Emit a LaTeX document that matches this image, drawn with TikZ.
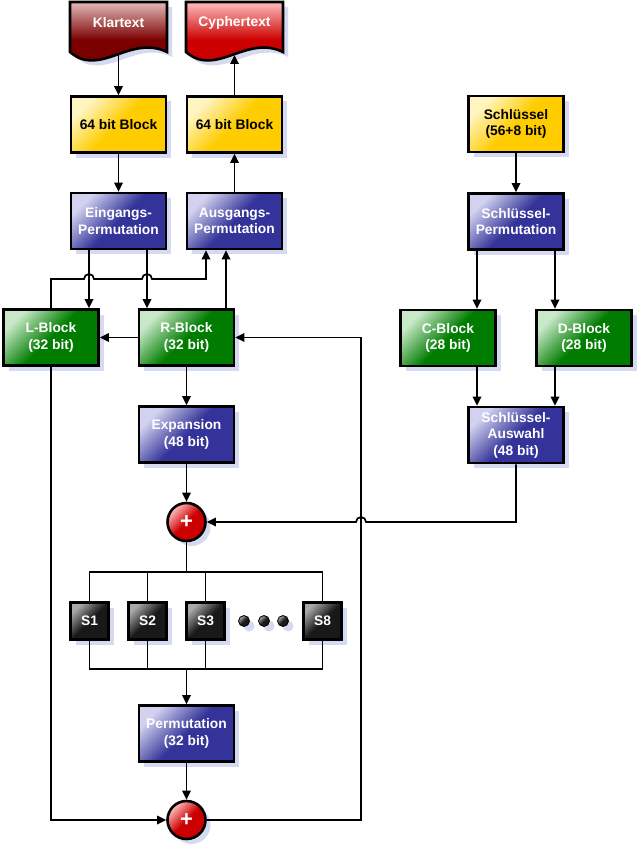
\documentclass[tikz,border=0pt]{standalone}
\usepackage{fontspec}
\setmainfont{Liberation Sans}
\usetikzlibrary{arrows.meta,shadows}
\definecolor{yelD}{RGB}{255,204,0}
\definecolor{yelL}{RGB}{255,245,195}
\definecolor{bluD}{RGB}{51,51,153}
\definecolor{bluL}{RGB}{210,210,240}
\definecolor{grnD}{RGB}{0,125,0}
\definecolor{grnL}{RGB}{200,232,200}
\definecolor{gryD}{RGB}{25,25,25}
\definecolor{gryL}{RGB}{170,170,170}
\definecolor{redD}{RGB}{204,0,0}
\definecolor{redL}{RGB}{255,190,190}
\definecolor{klarD}{RGB}{122,0,0}
\definecolor{klarL}{RGB}{230,185,185}
\definecolor{shadowblue}{RGB}{214,218,240}

\begin{document}
\begin{tikzpicture}[x=1pt,y=-1pt,
  shd/.style={drop shadow={shadow xshift=5pt,shadow yshift=-5pt,fill=shadowblue,opacity=1}},
  box/.style={shd,draw,line width=2.6pt,minimum width=95pt,minimum height=56pt,align=center,text=white,font=\bfseries\fontsize{13.8}{16.5}\selectfont},
  yelbox/.style={box,text=black,top color=yelL,bottom color=yelD,middle color=yelD,shading angle=45},
  blubox/.style={box,top color=bluL,bottom color=bluD,middle color=bluD,shading angle=45},
  grnbox/.style={box,top color=grnL,bottom color=grnD,middle color=grnD,shading angle=45},
  sbox/.style={box,minimum width=38pt,minimum height=37pt,top color=gryL,bottom color=gryD,middle color=gryD,shading angle=45},
  xorc/.style={shd,draw,circle,line width=2.6pt,minimum size=38pt,inner sep=0pt,text=white,font=\bfseries\fontsize{22}{22}\selectfont,top color=redL,bottom color=redD,middle color=redD,shading angle=45},
  dot/.style={shd,draw,circle,line width=0.8pt,minimum size=11pt,inner sep=0pt,top color=gryL,bottom color=gryD,middle color=gryD,shading angle=45},
  doc/.style={shd,draw,line width=2.6pt,line join=miter,shading angle=45},
  doctext/.style={text=white,font=\bfseries\fontsize{13.8}{16.5}\selectfont},
  ln/.style={line width=1.7pt},
  arr/.style={ln,-{Triangle[length=9pt,width=8.5pt]}}]
\useasboundingbox (0,0) rectangle (640,848);

\path[doc,top color=klarL,bottom color=klarD,middle color=klarD] (70,2) -- (167,2) -- (167,52) .. controls (130,34) and (100,78) .. (70,52) -- cycle;
\path[doc,top color=redL,bottom color=redD,middle color=redD] (186,2) -- (283,2) -- (283,52) .. controls (246,34) and (216,78) .. (186,52) -- cycle;
\node[doctext] (klar) at (118.5,23) {Klartext};
\node[doctext] (cyph) at (234.5,23) {Cyphertext};
\coordinate (klarbot) at (118.5,55);
\coordinate (cyphbot) at (234.5,55);

\node[yelbox] (blkin) at (118.5,124.5) {64 bit Block};
\node[yelbox] (blkout) at (234.5,124.5) {64 bit Block};
\node[blubox] (ip) at (118.5,221) {Eingangs-\\Permutation};
\node[blubox] (op) at (234.5,221) {Ausgangs-\\Permutation};
\node[grnbox] (lblk) at (51,337.5) {L-Block\\(32 bit)};
\node[grnbox] (rblk) at (186.5,337.5) {R-Block\\(32 bit)};
\node[blubox] (exp) at (186.5,434.5) {Expansion\\(48 bit)};
\node[xorc] (xor1) at (186.5,522) {+};
\node[sbox] (s1) at (89.5,621) {S1};
\node[sbox] (s2) at (147.5,621) {S2};
\node[sbox] (s3) at (205.5,621) {S3};
\node[sbox] (s8) at (322.5,621) {S8};
\node[dot] (dot1) at (244,621) {};
\node[dot] (dot2) at (264,621) {};
\node[dot] (dot3) at (283,621) {};
\node[blubox] (perm) at (186.5,733.5) {Permutation\\(32 bit)};
\node[xorc] (xor2) at (186.5,820) {+};

\node[yelbox] (key) at (516,124) {Schlüssel\\(56+8 bit)};
\node[blubox] (kp) at (516,221.5) {Schlüssel-\\Permutation};
\node[grnbox] (cblk) at (448,338) {C-Block\\(28 bit)};
\node[grnbox] (dblk) at (584,338) {D-Block\\(28 bit)};
\node[blubox] (ksel) at (516,435) {Schlüssel-\\Auswahl\\(48 bit)};

\coordinate (busin) at (186.5,572);
\coordinate (busout) at (186.5,669);

\draw[arr] (klarbot) to (blkin);
\draw[arr] (blkin) to (ip);
\draw[arr] (op) to (blkout);
\draw[arr] (blkout) to (cyphbot);
\draw[arr] ([xshift=-29.5pt]ip.south) to ([xshift=-29.5pt]ip.south |- lblk.north);
\draw[arr] ([xshift=28.5pt]ip.south) to ([xshift=28.5pt]ip.south |- rblk.north);
\draw[arr] (lblk.north) -- (51,279) -- (84,279) arc[start angle=180,end angle=360,radius=5] -- (142,279) arc[start angle=180,end angle=360,radius=5] -- (206,279) -- ([xshift=-28.5pt]op.south);
\draw[arr] ([xshift=39.5pt]rblk.north) to ([xshift=-8.5pt]op.south);
\draw[arr] (rblk) to (lblk);
\draw[arr] (rblk) to (exp);
\draw[arr] (exp) to (xor1);
\draw[ln] (xor1) to (busin);
\draw[ln] (s1.north) -- (89.5,572) -- (322.5,572) -- (s8.north);
\draw[ln] (s2.north) to (147.5,572);
\draw[ln] (s3.north) to (205.5,572);
\draw[ln] (s1.south) -- (89.5,669) -- (322.5,669) -- (s8.south);
\draw[ln] (s2.south) to (147.5,669);
\draw[ln] (s3.south) to (205.5,669);
\draw[arr] (busout) to (perm);
\draw[arr] (perm) to (xor2);
\draw[arr] (lblk.south) -- (51,820) -- (xor2.west);
\draw[arr] (xor2.east) -- (361,820) -- (361,337.5) -- (rblk.east);

\draw[arr] (key) to (kp);
\draw[arr] ([xshift=-39pt]kp.south) to ([xshift=-39pt]kp.south |- cblk.north);
\draw[arr] ([xshift=39pt]kp.south) to ([xshift=39pt]kp.south |- dblk.north);
\draw[arr] ([xshift=29pt]cblk.south) to ([xshift=29pt]cblk.south |- ksel.north);
\draw[arr] ([xshift=-29pt]dblk.south) to ([xshift=-29pt]dblk.south |- ksel.north);
\draw[arr] (ksel.south) -- (516,522) -- (366,522) arc[start angle=0,end angle=-180,radius=5] -- (xor1.east);

\end{tikzpicture}
\end{document}
